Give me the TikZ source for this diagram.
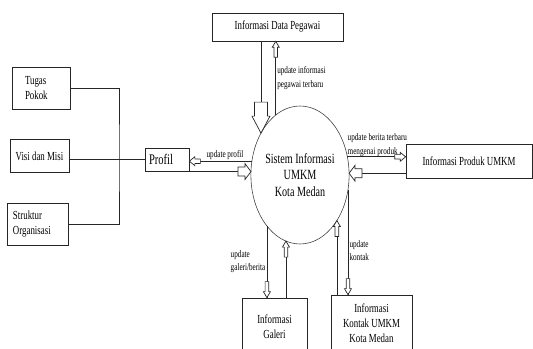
\documentclass[tikz,border=0pt]{standalone}
\usepackage{fontspec}
\setmainfont{Liberation Serif}[FakeStretch=0.72]
\usetikzlibrary{shapes.geometric, decorations.markings}

\begin{document}
\begin{tikzpicture}[
    x=0.03cm, y=0.03cm,
    kotak/.style={rectangle, draw=black!85, line width=0.6pt, align=center, inner sep=0pt, font=\fontsize{10.5}{13}\selectfont},
    proses/.style={ellipse, draw=black!75, line width=0.5pt, inner sep=0pt, outer sep=0pt, align=center, minimum width=2.82cm, minimum height=4.14cm, font=\fontsize{12}{14.2}\selectfont},
    ket/.style={align=left, inner sep=1pt, font=\fontsize{8.5}{11.5}\selectfont},
    garis/.style={draw=black!85, line width=0.6pt},
    panah/.style n args={4}{garis, postaction={decorate}, decoration={markings, mark=at position 1 with {\draw[garis, fill=white] (-#1,-#3) -- (-#2,-#3) -- (-#2,-#4) -- (0,0) -- (-#2,#4) -- (-#2,#3) -- (-#1,#3) -- cycle;}}},
    panahbesar/.style={panah={31}{17}{6.5}{9}},
    panahsedang/.style={panah={13}{6}{4.5}{8}},
    panahkecil/.style={panah={16}{6}{1.8}{3.5}},
    panahpendek/.style={panah={11}{5.5}{2.2}{4.5}}
]
\useasboundingbox (0,0) rectangle (533,-349);

% simpul
\node[kotak, minimum width=3.93cm, minimum height=0.84cm] (pegawai) at (277.5,-27) {Informasi Data Pegawai};
\node[kotak, text width=0.96cm, inner xsep=0.39cm, align=left, minimum height=1.26cm] (tugas) at (41,-88) {Tugas\\Pokok};
\node[kotak, minimum width=1.77cm, minimum height=0.99cm] (visi) at (39.5,-156) {Visi dan Misi};
\node[kotak, text width=1.47cm, inner xsep=0.18cm, align=left, minimum height=1.26cm] (struktur) at (37.5,-224) {Struktur\\Organisasi};
\node[kotak, text width=1.08cm, inner xsep=0.12cm, align=left, minimum height=0.69cm, font=\fontsize{12.5}{14}\selectfont] (profil) at (167,-159.5) {Profil};
\node[proses] (umkm) at (300,-175) {Sistem Informasi\\UMKM\\Kota Medan};
\node[kotak, minimum width=3.78cm, minimum height=1.02cm] (produk) at (469,-161) {Informasi Produk UMKM};
\node[kotak, minimum width=1.95cm, minimum height=1.71cm] (galeri) at (274.5,-326.5) {Informasi\\Galeri};
\node[kotak, minimum width=2.43cm, minimum height=1.68cm] (kontak) at (371.5,-323) {Informasi\\Kontak UMKM\\Kota Medan};

% garis profil
\coordinate (simpul) at (119,-159.5);
\draw[garis] (tugas.east) -| (simpul) |- (struktur.east);
\draw[garis] (visi.east |- profil.west) -- (profil.west);

% aliran data
\draw[panahbesar] (pegawai.south -| umkm.133.1) -- (umkm.133.1);
\draw[panahkecil] (umkm.112) -- node[ket, right, pos=0.5] {update informasi\\pegawai terbaru} (umkm.112 |- pegawai.south);
\draw[panahpendek] (umkm.164.3) -- node[ket, above, pos=0.43] {update profil} (umkm.164.3 -| profil.east);
\draw[panahsedang] (profil.east |- umkm.176.3) -- (umkm.176.3);
\draw[panahpendek] (umkm.21.6) -- node[ket, above right, pos=0, inner sep=0pt] {update berita terbaru\\mengenai produk} (umkm.21.6 -| produk.west);
\draw[panahsedang] (produk.west |- umkm.2.5) -- (umkm.2.5);
\draw[panahkecil] (umkm.237.6) -- node[ket, left, pos=0.5] {update\\galeri/berita} (umkm.237.6 |- galeri.north);
\draw[panahkecil] (galeri.north -| umkm.258.9) -- (umkm.258.9);
\draw[panahkecil] (kontak.north -| umkm.309) -- (umkm.309);
\draw[panahkecil] (umkm.343) -- node[ket, right, pos=0.58] {update\\kontak} (umkm.343 |- kontak.north);

\end{tikzpicture}
\end{document}
